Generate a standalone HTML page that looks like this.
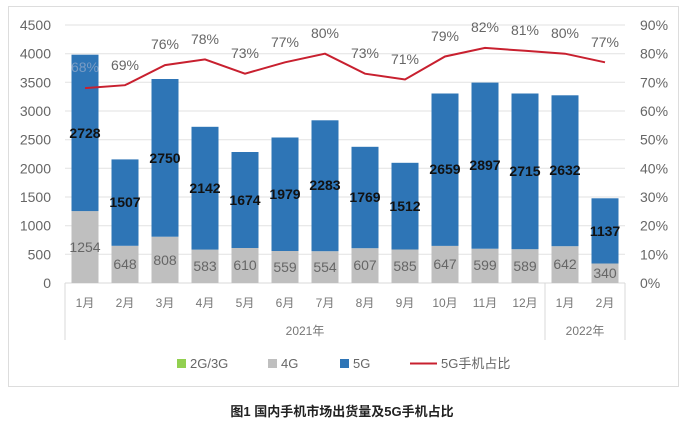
<!DOCTYPE html>
<html><head><meta charset="utf-8"><style>
body{margin:0;background:#fff;width:684px;height:427px;overflow:hidden}
svg{display:block;font-family:"Liberation Sans","Noto Sans CJK SC",sans-serif}
</style></head><body>
<svg width="684" height="427" viewBox="0 0 684 427">
<rect x="8.5" y="6.5" width="670" height="380" fill="#fff" stroke="#ddd"/>
<g stroke="#e2e2e2" stroke-width="1">
<line x1="65" x2="625" y1="25" y2="25"/><line x1="65" x2="625" y1="53.7" y2="53.7"/><line x1="65" x2="625" y1="82.3" y2="82.3"/><line x1="65" x2="625" y1="111" y2="111"/><line x1="65" x2="625" y1="139.7" y2="139.7"/><line x1="65" x2="625" y1="168.3" y2="168.3"/><line x1="65" x2="625" y1="197" y2="197"/><line x1="65" x2="625" y1="225.7" y2="225.7"/><line x1="65" x2="625" y1="254.3" y2="254.3"/>
</g>
<g stroke="#d9d9d9"><line x1="65" x2="625" y1="283" y2="283"/><line x1="65" x2="65" y1="283" y2="340"/><line x1="545" x2="545" y1="283" y2="340"/><line x1="625" x2="625" y1="283" y2="340"/></g>
<g font-size="14" fill="#666" text-anchor="end">
<text x="51" y="30">4500</text><text x="51" y="58.7">4000</text><text x="51" y="87.3">3500</text><text x="51" y="116">3000</text><text x="51" y="144.7">2500</text><text x="51" y="173.3">2000</text><text x="51" y="202">1500</text><text x="51" y="230.7">1000</text><text x="51" y="259.3">500</text><text x="51" y="288">0</text>
</g>
<g font-size="14" fill="#666">
<text x="640" y="30">90%</text><text x="640" y="58.7">80%</text><text x="640" y="87.3">70%</text><text x="640" y="116">60%</text><text x="640" y="144.7">50%</text><text x="640" y="173.3">40%</text><text x="640" y="202">30%</text><text x="640" y="230.7">20%</text><text x="640" y="259.3">10%</text><text x="640" y="288">0%</text>
</g>
<g fill="#bfbfbf">
<rect x="71.5" y="211.1" width="27" height="71.9"/><rect x="111.5" y="245.8" width="27" height="37.2"/><rect x="151.5" y="236.7" width="27" height="46.3"/><rect x="191.5" y="249.6" width="27" height="33.4"/><rect x="231.5" y="248" width="27" height="35"/><rect x="271.5" y="251" width="27" height="32"/><rect x="311.5" y="251.2" width="27" height="31.8"/><rect x="351.5" y="248.2" width="27" height="34.8"/><rect x="391.5" y="249.5" width="27" height="33.5"/><rect x="431.5" y="245.9" width="27" height="37.1"/><rect x="471.5" y="248.7" width="27" height="34.3"/><rect x="511.5" y="249.2" width="27" height="33.8"/><rect x="551.5" y="246.2" width="27" height="36.8"/><rect x="591.5" y="263.5" width="27" height="19.5"/>
</g>
<g fill="#2e75b6">
<rect x="71.5" y="54.7" width="27" height="156.4"/><rect x="111.5" y="159.4" width="27" height="86.4"/><rect x="151.5" y="79" width="27" height="157.7"/><rect x="191.5" y="126.8" width="27" height="122.8"/><rect x="231.5" y="152" width="27" height="96"/><rect x="271.5" y="137.5" width="27" height="113.5"/><rect x="311.5" y="120.3" width="27" height="130.9"/><rect x="351.5" y="146.8" width="27" height="101.4"/><rect x="391.5" y="162.8" width="27" height="86.7"/><rect x="431.5" y="93.5" width="27" height="152.4"/><rect x="471.5" y="82.6" width="27" height="166.1"/><rect x="511.5" y="93.5" width="27" height="155.7"/><rect x="551.5" y="95.3" width="27" height="150.9"/><rect x="591.5" y="198.3" width="27" height="65.2"/>
</g>
<polyline fill="none" stroke="#c8202f" stroke-width="2" points="85,88.1 125,85.2 165,65.1 205,59.4 245,73.7 285,62.3 325,53.7 365,73.7 405,79.5 445,56.5 485,47.9 525,50.8 565,53.7 605,62.3"/>
<g font-size="14" fill="#666" text-anchor="middle">
<text x="85" y="252">1254</text><text x="125" y="269">648</text><text x="165" y="265">808</text><text x="205" y="271">583</text><text x="245" y="270">610</text><text x="285" y="272">559</text><text x="325" y="272">554</text><text x="365" y="270">607</text><text x="405" y="271">585</text><text x="445" y="269">647</text><text x="485" y="270">599</text><text x="525" y="271">589</text><text x="565" y="269">642</text><text x="605" y="278">340</text>
</g>
<g font-size="14" font-weight="bold" fill="#111" text-anchor="middle">
<text x="85" y="138">2728</text><text x="125" y="207">1507</text><text x="165" y="163">2750</text><text x="205" y="193">2142</text><text x="245" y="205">1674</text><text x="285" y="199">1979</text><text x="325" y="190">2283</text><text x="365" y="202">1769</text><text x="405" y="211">1512</text><text x="445" y="174">2659</text><text x="485" y="170">2897</text><text x="525" y="176">2715</text><text x="565" y="175">2632</text><text x="605" y="236">1137</text>
</g>
<g font-size="14" fill="#666" text-anchor="middle">
<text x="85" y="72" fill="#7a9cc4">68%</text><text x="125" y="70">69%</text><text x="165" y="49">76%</text><text x="205" y="44">78%</text><text x="245" y="58">73%</text><text x="285" y="47">77%</text><text x="325" y="38">80%</text><text x="365" y="58">73%</text><text x="405" y="64">71%</text><text x="445" y="41">79%</text><text x="485" y="32">82%</text><text x="525" y="35">81%</text><text x="565" y="38">80%</text><text x="605" y="47">77%</text>
</g>
<g font-size="12" fill="#777" text-anchor="middle">
<text x="85" y="307">1月</text><text x="125" y="307">2月</text><text x="165" y="307">3月</text><text x="205" y="307">4月</text><text x="245" y="307">5月</text><text x="285" y="307">6月</text><text x="325" y="307">7月</text><text x="365" y="307">8月</text><text x="405" y="307">9月</text><text x="445" y="307">10月</text><text x="485" y="307">11月</text><text x="525" y="307">12月</text><text x="565" y="307">1月</text><text x="605" y="307">2月</text>
<text x="305" y="335">2021年</text><text x="585" y="335">2022年</text>
</g>
<g font-size="13" fill="#666">
<rect x="177" y="359" width="9" height="9" fill="#92d050"/><text x="190" y="368">2G/3G</text>
<rect x="268" y="359" width="9" height="9" fill="#bfbfbf"/><text x="281" y="368">4G</text>
<rect x="340" y="359" width="9" height="9" fill="#2e75b6"/><text x="353" y="368">5G</text>
<line x1="410" x2="437" y1="363.5" y2="363.5" stroke="#c8202f" stroke-width="2"/><text x="441" y="368">5G手机占比</text>
</g>
<text x="342" y="416" font-size="13" font-weight="bold" fill="#222" text-anchor="middle">图1  国内手机市场出货量及5G手机占比</text>
</svg>
</body></html>
